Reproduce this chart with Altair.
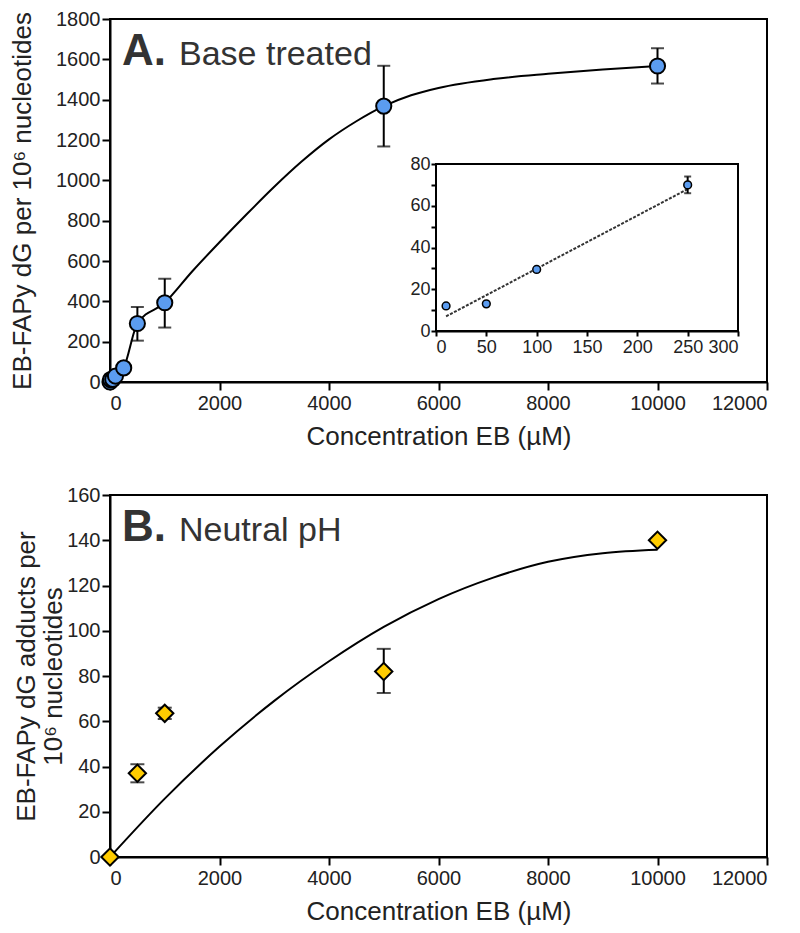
import altair as alt
import pandas as pd

FONT = "Liberation Sans"
BLUE = "#5b9cf0"
GOLD = "#ffcc00"
INK = "#222222"

# ---------- Panel A: base treated ----------
a_conc = [0, 10, 50, 100, 250, 500, 1000, 5000, 10000]
a_mean = [0, 12, 13, 29.5, 70, 290, 393, 1368, 1567]
a_err_conc = [250, 500, 1000, 5000, 10000]
a_err_lo = [66, 205, 270, 1168, 1480]
a_err_hi = [74, 372, 512, 1568, 1655]
a_curve_conc = [0, 10, 50, 100, 250, 500, 1000, 1500, 2000, 2500, 3000, 3500, 4000, 4500, 5000,
                5500, 6000, 7000, 8000, 9000, 10000]
a_curve_val = [0, 12, 13, 29.5, 70, 290, 393, 548, 693, 833, 968, 1093, 1203, 1293, 1368,
               1422, 1458, 1502, 1528, 1549, 1567]

# inset (low doses)
i_conc = [10, 50, 100, 250]
i_mean = [12, 13, 29.5, 70]
i_err_conc = [250]
i_err_lo = [66]
i_err_hi = [74]
i_fit_conc = [10, 250]
i_fit_val = [7, 68]

# ---------- Panel B: neutral pH ----------
b_conc = [0, 500, 1000, 5000, 10000]
b_mean = [0, 37, 63.5, 82, 140]
b_err_conc = [500, 1000, 5000]
b_err_lo = [33, 61, 72.5]
b_err_hi = [41, 66, 92]
b_curve_conc = [0, 1000, 2000, 3000, 4000, 5000, 6000, 7000, 8000, 9000, 10000]
b_curve_val = [0, 25.8, 48.8, 69, 86.5, 101.7, 114, 123.5, 130.5, 134.3, 135.8]

x_ticks = [0, 2000, 4000, 6000, 8000, 10000, 12000]
a_y_ticks = list(range(0, 1801, 200))
b_y_ticks = list(range(0, 161, 20))
i_x_ticks = [0, 50, 100, 150, 200, 250, 300]
i_y_ticks = list(range(0, 81, 10))

W, H = 657, 363

pts_a = pd.DataFrame({"conc": a_conc, "val": a_mean})
err_a = pd.DataFrame({"conc": a_err_conc, "lo": a_err_lo, "hi": a_err_hi})
cur_a = pd.DataFrame({"conc": a_curve_conc, "val": a_curve_val})
pts_i = pd.DataFrame({"ic": i_conc, "iv": i_mean})
err_i = pd.DataFrame({"ic": i_err_conc, "lo": i_err_lo, "hi": i_err_hi})
fit_i = pd.DataFrame({"ic": i_fit_conc, "iv": i_fit_val})
frame_i = pd.DataFrame({"ic": [0], "ic2": [300], "iv": [0], "iv2": [80]})
pts_b = pd.DataFrame({"conc": b_conc, "val": b_mean})
err_b = pd.DataFrame({"conc": b_err_conc, "lo": b_err_lo, "hi": b_err_hi})
cur_b = pd.DataFrame({"conc": b_curve_conc, "val": b_curve_val})

x_title = "Concentration EB (µM)"
xs = alt.Scale(domain=[0, 12000], nice=False, zero=False)
x_axis = alt.Axis(values=x_ticks, title=x_title, format="d")


def panel(pts, err, cur, ydom, yticks, ytitle, letter, label, shape, color, size, cap, ytitlepad, lh):
    ys = alt.Scale(domain=ydom, nice=False)
    y_axis = alt.Axis(values=yticks, title=ytitle, format="d", titlePadding=ytitlepad,
                      labelPadding=2, titleLineHeight=lh)
    X = alt.X("conc:Q", scale=xs, axis=x_axis)
    Y = alt.Y("val:Q", scale=ys, axis=y_axis)
    curve = alt.Chart(cur).mark_line(color="black", strokeWidth=2, interpolate="monotone").encode(x=X, y=Y)
    rules = alt.Chart(err).mark_rule(color="black", strokeWidth=2).encode(
        x=X, y=alt.Y("lo:Q", scale=ys, axis=y_axis), y2="hi:Q")
    caps_lo = alt.Chart(err).mark_tick(color="black", thickness=2, size=cap, orient="horizontal").encode(
        x=X, y=alt.Y("lo:Q", scale=ys, axis=y_axis))
    caps_hi = alt.Chart(err).mark_tick(color="black", thickness=2, size=cap, orient="horizontal").encode(
        x=X, y=alt.Y("hi:Q", scale=ys, axis=y_axis))
    points = alt.Chart(pts).mark_point(shape=shape, filled=True, fill=color, stroke="black",
                                       strokeWidth=2, opacity=1, size=size).encode(x=X, y=Y)
    t1 = alt.Chart(pd.DataFrame({"t": [letter]})).mark_text(
        font=FONT, fontSize=44, fontWeight="bold", color="#333333", align="left", baseline="alphabetic"
    ).encode(text="t:N", x=alt.value(12), y=alt.value(46))
    t2 = alt.Chart(pd.DataFrame({"t": [label]})).mark_text(
        font=FONT, fontSize=34, color="#333333", align="left", baseline="alphabetic"
    ).encode(text="t:N", x=alt.value(69), y=alt.value(46))
    return alt.layer(curve, rules, caps_lo, caps_hi, points, t1, t2)


main_a = panel(pts_a, err_a, cur_a, [0, 1800], a_y_ticks,
               "EB-FAPy dG per 10⁶ nucleotides", "A.", "Base treated",
               "circle", BLUE, 230, 13, 20, 29)

# ---------- inset on its own scales, placed inside panel A ----------
ixs = alt.Scale(domain=[0, 300], range=[326, 628], nice=False)
iys = alt.Scale(domain=[0, 80], range=[312, 145], nice=False)
ix_axis = alt.Axis(orient="bottom", offset=-51, values=i_x_ticks, title=None, labelFontSize=18,
                   tickSize=5, labelPadding=2, domainWidth=2, tickWidth=2, format="d")
iy_axis = alt.Axis(orient="left", offset=-326, values=i_y_ticks, title=None, labelFontSize=18,
                   tickSize=5, labelPadding=1, domainWidth=2, tickWidth=2,
                   labelExpr="datum.value % 20 == 0 ? datum.label : ''")
IX = alt.X("ic:Q", scale=ixs, axis=ix_axis)
IY = alt.Y("iv:Q", scale=iys, axis=iy_axis)
frame = alt.Chart(frame_i).mark_rect(fill="white", stroke="black", strokeWidth=2).encode(
    x=IX, x2="ic2:Q", y=IY, y2="iv2:Q")
fit = alt.Chart(fit_i).mark_line(color="#333333", strokeWidth=2, strokeDash=[3, 1.5]).encode(x=IX, y=IY)
i_rule = alt.Chart(err_i).mark_rule(color="black", strokeWidth=2).encode(
    x=IX, y=alt.Y("lo:Q", scale=iys, axis=iy_axis), y2="hi:Q")
i_cap_lo = alt.Chart(err_i).mark_tick(color="black", thickness=2, size=7, orient="horizontal").encode(
    x=IX, y=alt.Y("lo:Q", scale=iys, axis=iy_axis))
i_cap_hi = alt.Chart(err_i).mark_tick(color="black", thickness=2, size=7, orient="horizontal").encode(
    x=IX, y=alt.Y("hi:Q", scale=iys, axis=iy_axis))
i_pts = alt.Chart(pts_i).mark_point(shape="circle", filled=True, fill=BLUE, stroke="black",
                                    strokeWidth=1.5, opacity=1, size=60).encode(x=IX, y=IY)
inset = alt.layer(frame, fit, i_rule, i_cap_lo, i_cap_hi, i_pts)

top = alt.layer(main_a, inset).resolve_scale(x="independent", y="independent").properties(width=W, height=H)

bottom = panel(pts_b, err_b, cur_b, [0, 160], b_y_ticks,
               ["EB-FAPy dG adducts per", "10⁶ nucleotides"], "B.", "Neutral pH",
               "diamond", GOLD, 300, 14, 0, 27).properties(width=W, height=362)

chart = alt.vconcat(top, bottom, spacing=34).properties(
    padding={"left": 0, "top": 0, "right": 5, "bottom": 0}
).configure_view(stroke="black", strokeWidth=2).configure_axis(
    grid=False, domainColor="black", domainWidth=2, tickColor="black", tickWidth=2, tickSize=8,
    labelFont=FONT, labelFontSize=20, labelColor=INK, labelPadding=3,
    titleFont=FONT, titleFontSize=26, titleFontWeight="normal", titleColor=INK,
).configure_axisX(titlePadding=10)

chart.save("out.html", embed_options={"renderer": "svg", "actions": False})
